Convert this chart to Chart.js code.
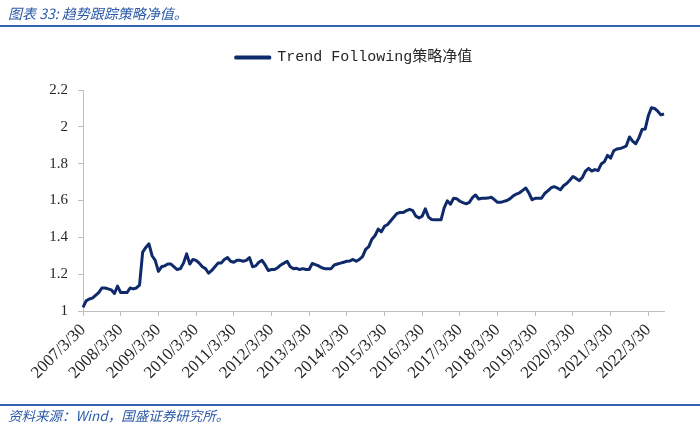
<!DOCTYPE html>
<html>
<head>
<meta charset="utf-8">
<script src="https://cdn.jsdelivr.net/npm/chart.js@4"></script>
<style>
  body { margin: 0; background: #fff; }
  #wrap { position: relative; width: 700px; height: 427px; background: #fff; overflow: hidden; }
  #chart { position: absolute; left: 0; top: 0; }
  .caption { position: absolute; left: 8px; font-family: "Noto Sans CJK SC", sans-serif; font-style: italic; color: #2c5aa8; white-space: nowrap; }
  .rule { position: absolute; left: 0; width: 700px; height: 2px; background: #3463b2; }
</style>
</head>
<body>
<div id="wrap">
  <canvas id="chart" width="700" height="427"></canvas>
  <div class="caption" style="top:3px; font-size:14px">图表 33: 趋势跟踪策略净值。</div>
  <div class="rule" style="top:25px"></div>
  <div class="rule" style="top:404px"></div>
  <div class="caption" style="top:405px; font-size:13.5px">资料来源：Wind，国盛证券研究所。</div>
</div>
<script>
// monthly net value, 2007/3 .. 2022/8
const navValues = [
    1.02, 1.055, 1.065, 1.07, 1.085, 1.10, 1.125, 1.125, 1.12, 1.115,
    1.095, 1.135, 1.10, 1.10, 1.10, 1.125, 1.12, 1.125, 1.14, 1.32,
    1.345, 1.365, 1.30, 1.275, 1.215, 1.24, 1.245, 1.255, 1.255, 1.24,
    1.225, 1.23, 1.26, 1.31, 1.255, 1.28, 1.275, 1.26, 1.24, 1.23,
    1.205, 1.22, 1.24, 1.26, 1.26, 1.28, 1.29, 1.27, 1.265, 1.275,
    1.275, 1.27, 1.275, 1.29, 1.24, 1.245, 1.265, 1.275, 1.25, 1.22,
    1.225, 1.225, 1.235, 1.25, 1.26, 1.27, 1.24, 1.23, 1.232, 1.225,
    1.23, 1.225, 1.225, 1.258, 1.252, 1.245, 1.235, 1.23, 1.23, 1.23,
    1.25, 1.255, 1.26, 1.265, 1.27, 1.272, 1.28, 1.27, 1.28, 1.295,
    1.335, 1.35, 1.39, 1.41, 1.445, 1.43, 1.46, 1.47, 1.49, 1.51,
    1.53, 1.535, 1.535, 1.545, 1.552, 1.545, 1.515, 1.505, 1.515, 1.555,
    1.51, 1.497, 1.495, 1.495, 1.495, 1.56, 1.598, 1.58, 1.612, 1.61,
    1.596, 1.588, 1.582, 1.59, 1.615, 1.63, 1.608, 1.612, 1.612, 1.613,
    1.618, 1.605, 1.59, 1.59, 1.595, 1.60, 1.61, 1.625, 1.635, 1.642,
    1.655, 1.668, 1.64, 1.604, 1.612, 1.612, 1.612, 1.638, 1.652, 1.668,
    1.675, 1.668, 1.658, 1.68, 1.692, 1.71, 1.73, 1.72, 1.708, 1.725,
    1.76, 1.775, 1.76, 1.768, 1.762, 1.798, 1.81, 1.845, 1.83, 1.87,
    1.88, 1.882, 1.888, 1.897, 1.945, 1.922, 1.908, 1.94, 1.985, 1.988,
    2.06, 2.104, 2.10, 2.085, 2.065, 2.07
];

const tickLabels = ['2007/3/30', '2008/3/30', '2009/3/30', '2010/3/30', '2011/3/30',
    '2012/3/30', '2013/3/30', '2014/3/30', '2015/3/30', '2016/3/30', '2017/3/30',
    '2018/3/30', '2019/3/30', '2020/3/30', '2021/3/30', '2022/3/30'];

const seriesName = 'Trend Following策略净值';

const months = [];
for (let i = 0; i < navValues.length; i++) {
    const m = 2 + i; // 0 indexed month, starting March 2007
    months.push(`${2007 + Math.floor(m / 12)}/${m % 12 + 1}`);
}

const axisGrey = '#bfbfbf';
const navy = '#0f2a6b';

// push chart area down a bit below the legend
const legendGap = {
    id: 'legendGap',
    beforeInit(chart) {
        const fit = chart.legend.fit;
        chart.legend.fit = function () {
            fit.bind(chart.legend)();
            this.height += 15;
        };
    }
};

new Chart(document.getElementById('chart'), {
    type: 'line',
    data: {
        labels: months,
        datasets: [{
            label: seriesName,
            data: navValues,
            borderColor: navy,
            backgroundColor: navy,
            borderWidth: 3,
            pointRadius: 0,
            tension: 0,
            borderJoinStyle: 'round'
        }]
    },
    options: {
        responsive: false,
        animation: false,
        devicePixelRatio: 1,
        layout: { padding: { left: 44, right: 36, top: 30, bottom: 0 } },
        plugins: {
            tooltip: { enabled: false },
            legend: {
                position: 'top',
                labels: {
                    boxWidth: 34,
                    boxHeight: 1,
                    padding: 20,
                    color: '#262626',
                    font: { family: "'Liberation Mono', 'Noto Sans CJK SC', monospace", size: 15 }
                }
            }
        },
        scales: {
            x: {
                afterFit(scale) { scale.height = 116; },
                afterBuildTicks(scale) {
                    scale.ticks = scale.ticks.filter(t => t.value % 12 === 0);
                },
                grid: { display: true, drawOnChartArea: false, drawTicks: true, tickLength: 5, color: axisGrey },
                border: { display: true, color: axisGrey, width: 1 },
                ticks: {
                    autoSkip: false,
                    minRotation: 45,
                    maxRotation: 45,
                    padding: 4,
                    color: '#262626',
                    font: { family: "'Liberation Serif', serif", size: 17 },
                    callback: (value) => tickLabels[value / 12]
                }
            },
            y: {
                min: 1,
                max: 2.2,
                afterFit(scale) { scale.width = 39; },
                grid: { display: true, drawOnChartArea: false, drawTicks: true, tickLength: 5, color: axisGrey },
                border: { display: true, color: axisGrey, width: 1 },
                ticks: {
                    stepSize: 0.2,
                    padding: 10,
                    color: '#262626',
                    font: { family: "'Liberation Serif', serif", size: 15 },
                    callback: (v) => String(Number(v.toFixed(1)))
                }
            }
        }
    },
    plugins: [legendGap]
});
</script>
</body>
</html>
